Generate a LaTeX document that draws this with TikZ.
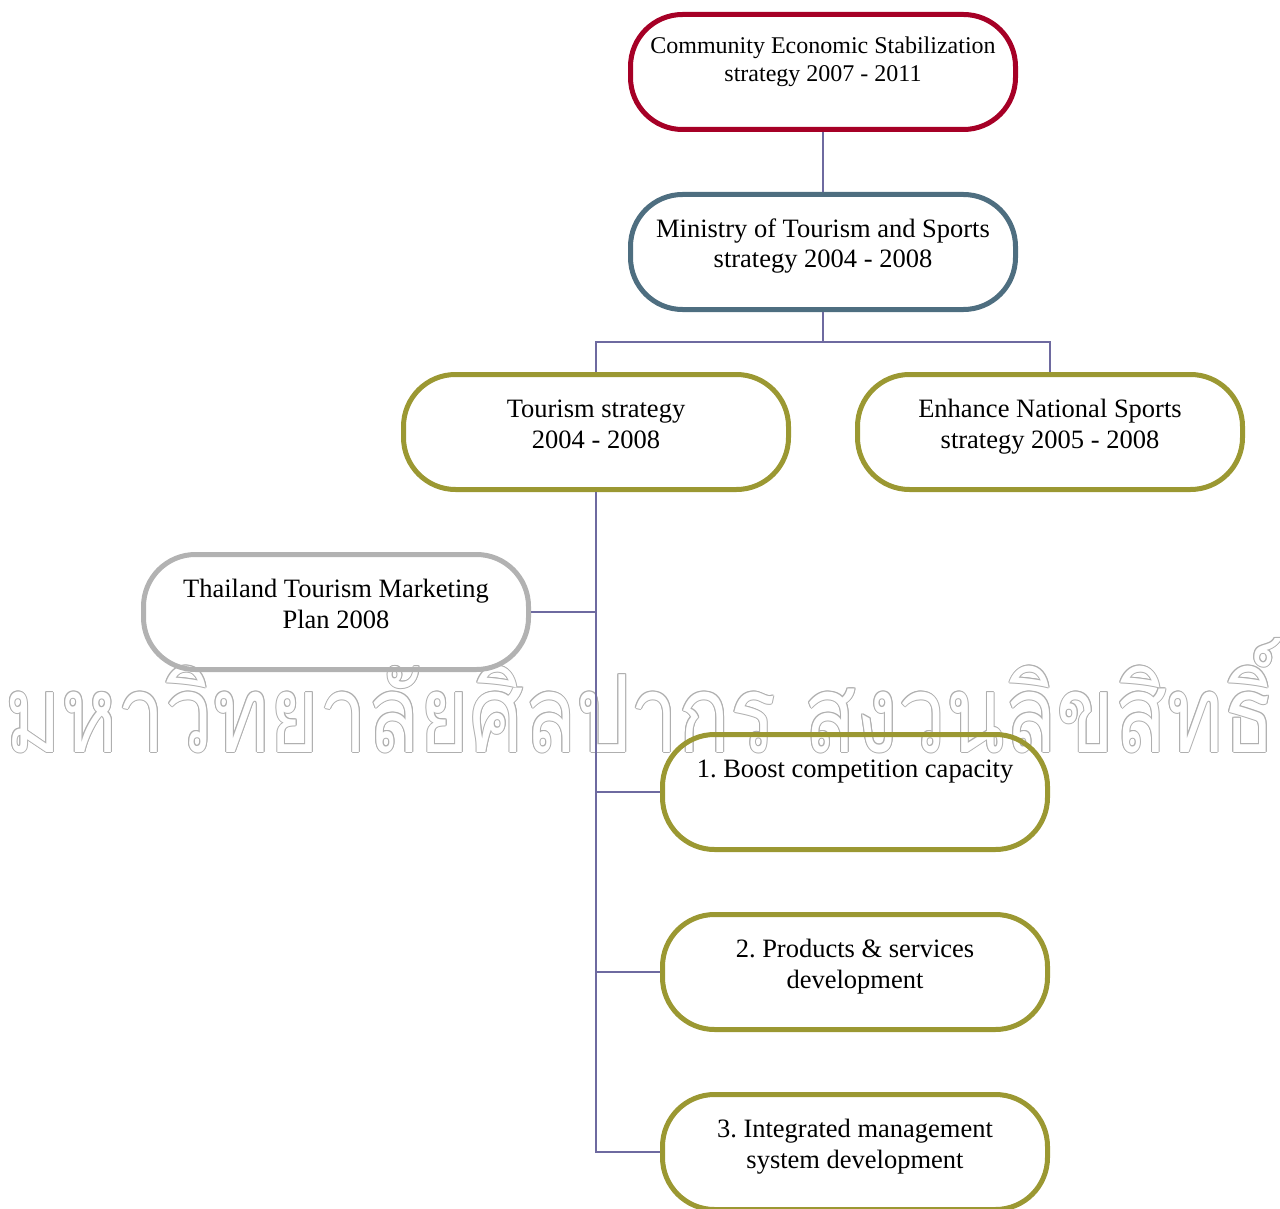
\documentclass[tikz,border=0pt]{standalone}
\usepackage{fontspec}
\setmainfont{Liberation Serif}
\newfontfamily\thaifont[Script=Thai]{Loma}
\usepackage{graphicx}
\usetikzlibrary{calc}
\frenchspacing

\definecolor{crimson}{RGB}{166,0,38}
\definecolor{slate}{RGB}{78,110,128}
\definecolor{olive}{RGB}{155,152,50}
\definecolor{silver}{RGB}{178,178,178}
\definecolor{linkc}{RGB}{110,106,160}
\definecolor{wmark}{RGB}{175,175,175}

% text block of a box: top aligned, first baseline 22pt below the block's top
\newcommand\boxlines[2]{\parbox[c][#1][t]{370pt}{\centering\rule{0pt}{22pt}#2}}

% hollow lettering: grey copies around a white copy
\newcommand\stampword{\resizebox{1270pt}{114pt}{\thaifont มหาวิทยาลัยศิลปากร สงวนลิขสิทธิ์}}
\newcommand\stampat[2]{\rlap{\hspace*{#1}\raisebox{#2}{\stampword}}}
\newcommand\hollowstamp{%
  {\color{wmark}%
   \stampat{-1pt}{0pt}\stampat{1pt}{0pt}\stampat{0pt}{1pt}\stampat{0pt}{-1pt}%
   \stampat{-0.7pt}{0.7pt}\stampat{0.7pt}{0.7pt}\stampat{-0.7pt}{-0.7pt}\stampat{0.7pt}{-0.7pt}}%
  {\color{white}\stampword}}

\tikzset{
  pill/.style={draw=#1, line width=5pt, rounded corners=52pt,
    minimum width=385pt, minimum height=115pt, inner sep=0pt,
    font=\fontsize{26.5pt}{31pt}\selectfont},
  link/.style={draw=linkc, line width=1.8pt},
}

\begin{document}
\begin{tikzpicture}[x=1pt, y=-1pt]
\clip (0,0) rectangle (1280,1209);
\useasboundingbox (0,0) rectangle (1280,1209);

% watermark lettering across the middle
\node[anchor=base west, inner sep=0pt] (stamp) at (5,752) {\hollowstamp};

% boxes
\node[pill=crimson, font=\fontsize{24pt}{28pt}\selectfont] (top) at (823,72)
  {\boxlines{81pt}{Community Economic Stabilization\\strategy 2007 - 2011}};
\node[pill=slate] (min) at (823,252)
  {\boxlines{74pt}{Ministry of Tourism and Sports\\strategy 2004 - 2008}};
\node[pill=olive] (tour) at (596,432)
  {\boxlines{74pt}{Tourism strategy\\2004 - 2008}};
\node[pill=olive] (enh) at (1050,432)
  {\boxlines{74pt}{Enhance National Sports\\strategy 2005 - 2008}};
\node[pill=silver] (thai) at (336,612)
  {\boxlines{74pt}{Thailand Tourism Marketing\\Plan 2008}};
\node[pill=olive] (boost) at (855,792)
  {\boxlines{74pt}{1. Boost competition capacity}};
\node[pill=olive] (prod) at (855,972)
  {\boxlines{74pt}{2. Products \& services\\development}};
\node[pill=olive] (integ) at (855,1152)
  {\boxlines{74pt}{3. Integrated management\\system development}};

% connectors
\draw[link] (top.south) -- (min.north);
\coordinate (fork) at ($(min.south)+(0,30)$);
\draw[link] (min.south) -- (fork);
\draw[link] (fork) -| (tour.north);
\draw[link] (fork) -| (enh.north);
\draw[link] (tour.south) |- (integ.west);
\draw[link] (tour.south |- thai.east) -- (thai.east);
\draw[link] (tour.south |- boost.west) -- (boost.west);
\draw[link] (tour.south |- prod.west) -- (prod.west);
\end{tikzpicture}
\end{document}
